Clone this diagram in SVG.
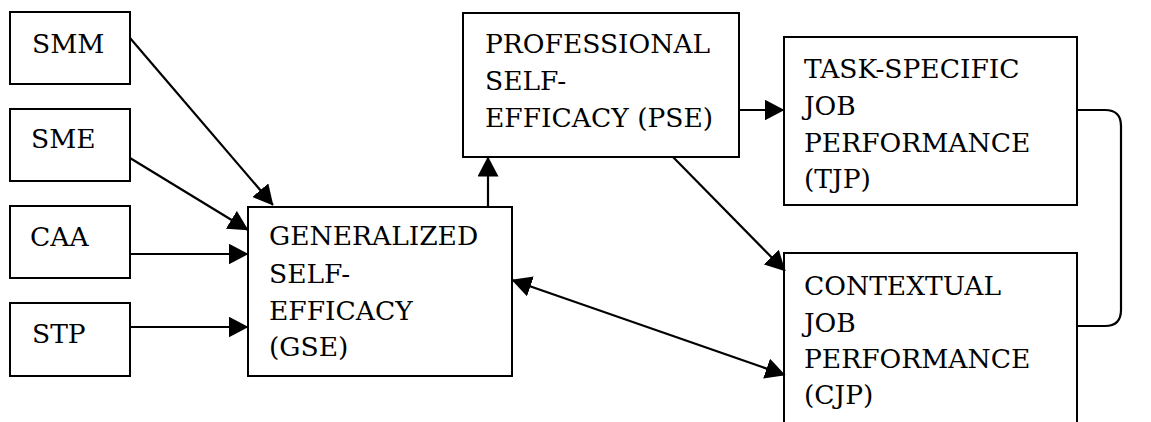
<svg xmlns="http://www.w3.org/2000/svg" width="1151" height="422" viewBox="0 0 1151 422">
<style>
.box{fill:#fff;stroke:#000;stroke-width:2}
text{font-family:"DejaVu Serif",serif;font-size:26.5px;fill:#000}
.c{fill:none;stroke:#000;stroke-width:2.2}
</style>
<defs>
<marker id="ah" markerUnits="userSpaceOnUse" markerWidth="20" markerHeight="21" viewBox="0 0 20 21" refX="19.5" refY="10.5" orient="auto-start-reverse">
<path d="M0,0 L20,10.5 L0,21 z" fill="#000"/>
</marker>
</defs>
<rect width="1151" height="422" fill="#fff"/>
<g id="SMM"><rect class="box" x="10" y="12" width="120" height="72"/><text x="32" y="53">SMM</text></g>
<g id="SME"><rect class="box" x="10" y="109" width="120" height="72"/><text x="31" y="148">SME</text></g>
<g id="CAA"><rect class="box" x="10" y="206" width="120" height="72"/><text x="30" y="246">CAA</text></g>
<g id="STP"><rect class="box" x="10" y="303" width="120" height="73"/><text x="32" y="343">STP</text></g>
<g id="GSE"><rect class="box" x="248" y="207" width="264" height="169"/>
<text x="269" y="245">GENERALIZED</text>
<text x="269" y="283">SELF-</text>
<text x="269" y="320">EFFICACY</text>
<text x="269" y="356">(GSE)</text></g>
<g id="PSE"><rect class="box" x="463" y="13" width="276" height="144"/>
<text x="485" y="53">PROFESSIONAL</text>
<text x="485" y="90">SELF-</text>
<text x="485" y="127">EFFICACY (PSE)</text></g>
<g id="TJP"><rect class="box" x="784" y="37" width="293" height="168"/>
<text x="804" y="78">TASK-SPECIFIC</text>
<text x="804" y="115">JOB</text>
<text x="804" y="152">PERFORMANCE</text>
<text x="804" y="188">(TJP)</text></g>
<g id="CJP"><rect class="box" x="784" y="253" width="293" height="200"/>
<text x="804" y="295">CONTEXTUAL</text>
<text x="804" y="332">JOB</text>
<text x="804" y="368">PERFORMANCE</text>
<text x="804" y="404">(CJP)</text></g>
<g id="connectors">
<line class="c" x1="130" y1="38" x2="273" y2="205" marker-end="url(#ah)"/>
<line class="c" x1="130" y1="158" x2="248" y2="230" marker-end="url(#ah)"/>
<line class="c" x1="130" y1="254" x2="248" y2="254" marker-end="url(#ah)"/>
<line class="c" x1="130" y1="327" x2="248" y2="327" marker-end="url(#ah)"/>
<line class="c" x1="488" y1="207" x2="488" y2="157" marker-end="url(#ah)"/>
<line class="c" x1="739" y1="110" x2="784" y2="110" marker-end="url(#ah)"/>
<line class="c" x1="673" y1="157" x2="785" y2="271" marker-end="url(#ah)"/>
<line class="c" x1="512" y1="280" x2="785" y2="375" marker-start="url(#ah)" marker-end="url(#ah)"/>
<path class="c" d="M1077,110 H1105 Q1121,110 1121,126 V310 Q1121,326 1105,326 H1077"/>
</g>
</svg>
